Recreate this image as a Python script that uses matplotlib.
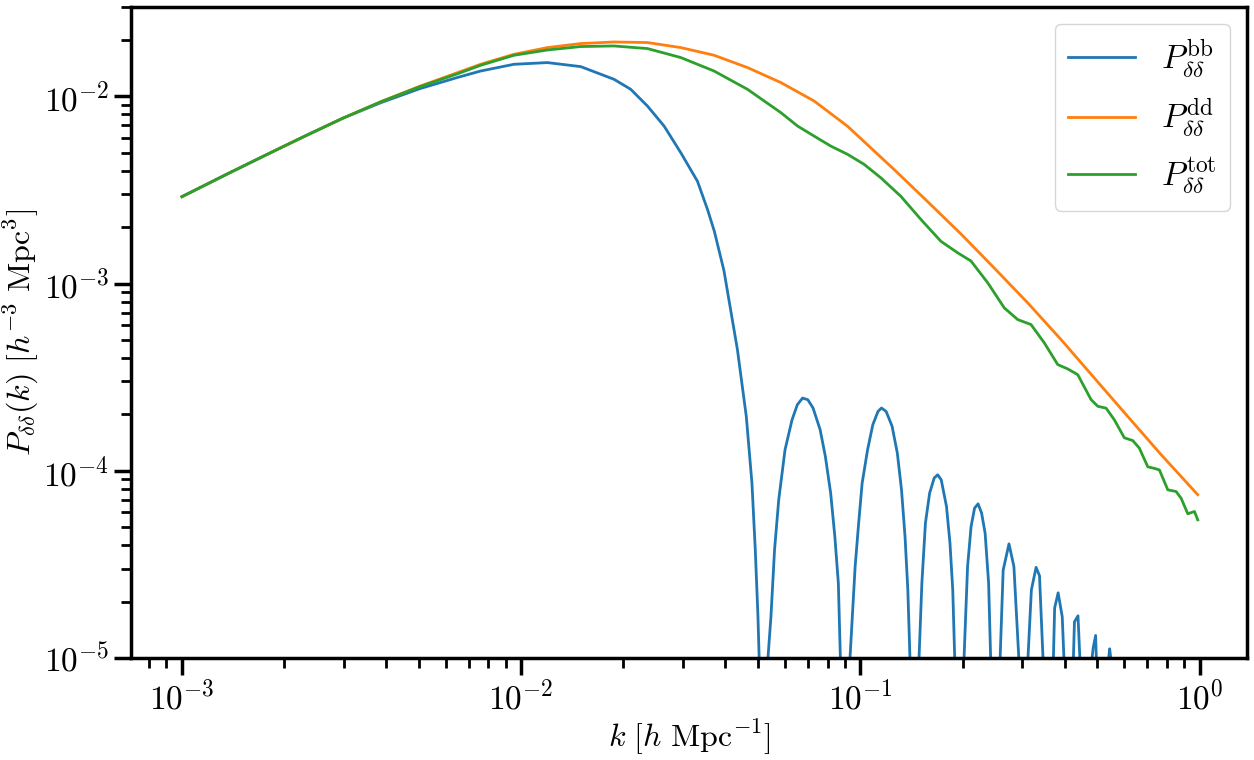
import matplotlib
matplotlib.use("Agg")
import matplotlib.pyplot as plt

# values (log-log axes)
k_bb = [1.00e-3, 1.361e-3, 1.768e-3, 2.295e-3, 2.981e-3, 3.872e-3, 5.026e-3, 6.528e-3, 7.595e-3,
        9.524e-3, 1.195e-2, 1.498e-2, 1.878e-2, 2.104e-2, 2.357e-2, 2.638e-2, 2.955e-2, 3.309e-2,
        3.542e-2, 3.71e-2, 3.96e-2, 4.34e-2, 4.61e-2, 4.79e-2, 4.90e-2, 4.99e-2, 5.03e-2, 5.18e-2,
        5.34e-2, 5.449e-2, 5.584e-2, 5.745e-2, 5.996e-2, 6.289e-2, 6.518e-2, 6.753e-2, 7.000e-2,
        7.252e-2, 7.610e-2, 7.884e-2, 8.173e-2, 8.409e-2, 8.611e-2, 8.73e-2, 9.02e-2, 9.32e-2,
        9.65e-2, 9.883e-2, 0.1012, 0.1050, 0.1088, 0.1127, 0.1154, 0.1191, 0.1240, 0.1285, 0.1322,
        0.1354, 0.1380, 0.1400, 0.1444, 0.1489, 0.1518, 0.1555, 0.1600, 0.1650, 0.1690, 0.1731,
        0.1794, 0.1837, 0.1872, 0.1897, 0.1959, 0.2021, 0.2070, 0.2120, 0.2171, 0.2223, 0.2277,
        0.2332, 0.2388, 0.2421, 0.2500, 0.2582, 0.2636, 0.2742, 0.2835, 0.2931, 0.3020, 0.3119,
        0.3192, 0.3296, 0.3373, 0.3454, 0.3581, 0.3707, 0.3738, 0.3828, 0.3936, 0.3981, 0.4111,
        0.4246, 0.4276, 0.4380, 0.4436, 0.4624, 0.4819, 0.4855, 0.4937, 0.4960, 0.5176, 0.5395,
        0.5430, 0.5470, 0.5754, 0.70, 0.85, 0.99]
p_bb = [2.91e-3, 3.85e-3, 4.86e-3, 6.11e-3, 7.64e-3, 9.27e-3, 1.099e-2, 1.265e-2, 1.365e-2,
        1.483e-2, 1.514e-2, 1.441e-2, 1.233e-2, 1.090e-2, 8.87e-3, 6.94e-3, 5.00e-3, 3.52e-3,
        2.49e-3, 1.905e-3, 1.175e-3, 4.44e-4, 1.95e-4, 8.59e-5, 3.78e-5, 1.66e-5, 1.0e-5, 3.2e-7,
        1.0e-5, 1.66e-5, 3.78e-5, 7.00e-5, 1.295e-4, 1.874e-4, 2.253e-4, 2.446e-4, 2.396e-4,
        2.164e-4, 1.657e-4, 1.193e-4, 7.60e-5, 4.45e-5, 2.51e-5, 1.0e-5, 3.2e-7, 1.0e-5,
        3.08e-5, 5.25e-5, 8.59e-5, 1.295e-4, 1.762e-4, 2.075e-4, 2.164e-4, 2.075e-4, 1.73e-4,
        1.243e-4, 7.91e-5, 4.45e-5, 2.31e-5, 1.0e-5, 3.2e-7, 1.0e-5, 2.51e-5, 5.25e-5, 7.60e-5,
        9.14e-5, 9.52e-5, 8.95e-5, 6.45e-5, 4.11e-5, 2.31e-5, 1.0e-5, 3.2e-7, 1.0e-5, 3.08e-5,
        5.04e-5, 6.32e-5, 6.66e-5, 5.94e-5, 4.64e-5, 2.51e-5, 1.0e-5, 3.2e-7, 1.0e-5, 2.95e-5,
        4.07e-5, 3.08e-5, 1.0e-5, 3.2e-7, 1.0e-5, 2.31e-5, 3.05e-5, 2.75e-5, 1.0e-5, 3.2e-7,
        1.0e-5, 1.85e-5, 2.23e-5, 1.66e-5, 1.0e-5, 3.2e-7, 1.0e-5, 1.56e-5, 1.68e-5, 1.0e-5,
        3.2e-7, 1.0e-5, 1.13e-5, 1.32e-5, 1.0e-5, 3.2e-7, 1.0e-5, 1.12e-5, 1.0e-5, 3.2e-7,
        2.0e-7, 1.0e-7, 5.0e-8]

k_dd = [1.00e-3, 1.361e-3, 1.768e-3, 2.295e-3, 2.981e-3, 3.872e-3, 5.026e-3, 6.528e-3, 7.595e-3,
        9.524e-3, 1.195e-2, 1.498e-2, 1.878e-2, 2.357e-2, 2.955e-2, 3.704e-2, 4.648e-2, 5.830e-2,
        7.306e-2, 9.166e-2, 0.1149, 0.1258, 0.1578, 0.1979, 0.2481, 0.3113, 0.3904, 0.4894,
        0.6140, 0.7698, 0.9874]
p_dd = [2.91e-3, 3.85e-3, 4.86e-3, 6.11e-3, 7.64e-3, 9.38e-3, 1.132e-2, 1.343e-2, 1.483e-2,
        1.677e-2, 1.821e-2, 1.913e-2, 1.951e-2, 1.937e-2, 1.821e-2, 1.657e-2, 1.424e-2, 1.184e-2,
        9.44e-3, 6.92e-3, 4.73e-3, 4.06e-3, 2.74e-3, 1.84e-3, 1.21e-3, 7.89e-4, 5.02e-4, 3.13e-4,
        1.95e-4, 1.22e-4, 7.45e-5]

k_tot = [1.00e-3, 1.361e-3, 1.768e-3, 2.295e-3, 2.981e-3, 3.872e-3, 5.026e-3, 6.528e-3, 7.595e-3,
         9.524e-3, 1.195e-2, 1.498e-2, 1.878e-2, 2.357e-2, 2.955e-2, 3.704e-2, 4.648e-2, 5.830e-2,
         6.528e-2, 7.306e-2, 8.185e-2, 9.166e-2, 0.1026, 0.1149, 0.1317, 0.1508, 0.1728, 0.1935,
         0.2118, 0.2373, 0.2656, 0.2909, 0.3184, 0.3485, 0.3818, 0.4086, 0.4373, 0.4786, 0.5010,
         0.5301, 0.5607, 0.6000, 0.6353, 0.6644, 0.7035, 0.7357, 0.7612, 0.8058, 0.8524, 0.8818,
         0.9231, 0.9656, 0.9874]
p_tot = [2.91e-3, 3.85e-3, 4.86e-3, 6.11e-3, 7.64e-3, 9.38e-3, 1.125e-2, 1.324e-2, 1.465e-2,
         1.657e-2, 1.768e-2, 1.844e-2, 1.858e-2, 1.799e-2, 1.611e-2, 1.365e-2, 1.090e-2, 8.18e-3,
         6.94e-3, 6.13e-3, 5.42e-3, 4.90e-3, 4.33e-3, 3.67e-3, 2.92e-3, 2.20e-3, 1.68e-3, 1.46e-3,
         1.32e-3, 1.01e-3, 7.41e-4, 6.42e-4, 6.04e-4, 4.82e-4, 3.69e-4, 3.50e-4, 3.26e-4, 2.40e-4,
         2.21e-4, 2.16e-4, 1.87e-4, 1.50e-4, 1.45e-4, 1.32e-4, 1.05e-4, 1.03e-4, 1.01e-4, 7.91e-5,
         7.75e-5, 7.14e-5, 5.89e-5, 6.06e-5, 5.47e-5]

labels = [r"$P_{\delta\delta}^{\mathrm{bb}}$", r"$P_{\delta\delta}^{\mathrm{dd}}$",
          r"$P_{\delta\delta}^{\mathrm{tot}}$"]

plt.rcParams["font.family"] = "serif"
plt.rcParams["font.serif"] = ["cmr10", "DejaVu Serif"]
plt.rcParams["mathtext.fontset"] = "cm"
plt.rcParams["axes.formatter.use_mathtext"] = True

fig = plt.figure(figsize=(12.54, 7.6), dpi=100)
ax = fig.add_axes([0.1045, 0.1342, 0.890, 0.8566])

ax.loglog(k_bb, p_bb, color="#1f77b4", lw=2, label=labels[0])
ax.loglog(k_dd, p_dd, color="#ff7f0e", lw=2, label=labels[1])
ax.loglog(k_tot, p_tot, color="#2ca02c", lw=2, label=labels[2])

ax.set_xlim(10 ** -3.15, 10 ** 0.14)
ax.set_ylim(1e-5, 3e-2)
ax.set_xlabel(r"$k\ [h\ \mathrm{Mpc}^{-1}]$", fontsize=23, labelpad=2)
ax.set_ylabel(r"$P_{\delta\delta}(k)\ [h^{-3}\ \mathrm{Mpc}^{3}]$", fontsize=23, labelpad=2)

for s in ax.spines.values():
    s.set_linewidth(2.5)
ax.tick_params(which="major", length=12, width=2.5, labelsize=24)
ax.tick_params(which="minor", length=7, width=2)

ax.legend(fontsize=24, loc="upper right")

fig.savefig("out.png", dpi=100)
